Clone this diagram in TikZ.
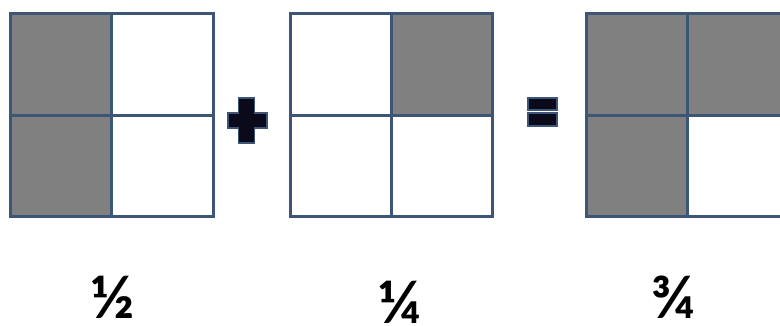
\documentclass[tikz,border=0pt]{standalone}
\usepackage{fontspec}
\setmainfont{Carlito}
\definecolor{gridline}{HTML}{3D5577}
\definecolor{cellgray}{HTML}{808080}
\definecolor{signfill}{HTML}{0A0A1A}
\begin{document}
\begin{tikzpicture}[x=1pt,y=-1pt,
  gridbox/.style={draw=gridline,line width=3pt},
  shaded/.style={fill=cellgray},
  signbar/.style={fill=signfill,draw=gridline,line width=1.2pt},
  fraclabel/.style={font=\bfseries\fontsize{62}{66}\selectfont,inner sep=0pt,
    text height=40pt,text depth=1pt,anchor=base}]
\useasboundingbox[fill=white] (0,0) rectangle (780,326);
% grid 1: one half
\fill[shaded] (10,14) rectangle (111,217);
\draw[gridbox] (10,14) rectangle (213,217);
\draw[gridbox] (111,14) -- (111,217);
\draw[gridbox] (10,116) -- (213,116);
% grid 2: one quarter
\fill[shaded] (391,14) rectangle (492,116);
\draw[gridbox] (290,14) rectangle (492,217);
\draw[gridbox] (391,14) -- (391,217);
\draw[gridbox] (290,116) -- (492,116);
% grid 3: three quarters
\fill[shaded] (586,14) rectangle (790,116);
\fill[shaded] (586,116) rectangle (687,217);
\draw[gridbox] (586,14) rectangle (790,217);
\draw[gridbox] (687,14) -- (687,217);
\draw[gridbox] (586,116) -- (790,116);
% plus sign
\path[signbar] (238.5,98) -- (254.5,98) -- (254.5,113) -- (267,113) -- (267,128) -- (254.5,128) -- (254.5,143) -- (238.5,143) -- (238.5,128) -- (228,128) -- (228,113) -- (238.5,113) -- cycle;
% equals sign
\path[signbar] (528,98) rectangle (557,110);
\path[signbar] (528,113) rectangle (557,126);
% labels
\node[fraclabel] (half) at (113,318) {½};
\node[fraclabel] (quarter) at (400,323) {¼};
\node[fraclabel] (threeq) at (673,318) {¾};
\end{tikzpicture}
\end{document}
